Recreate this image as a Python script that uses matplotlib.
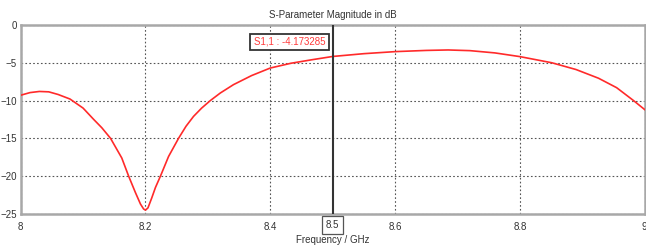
import matplotlib
matplotlib.use('Agg')
import matplotlib.pyplot as plt
import matplotlib.transforms as transforms

plt.rcParams['font.family'] = ['Liberation Sans', 'DejaVu Sans']

# S1,1 magnitude (GHz, dB)
freq_ghz = [8.0, 8.015, 8.03, 8.045, 8.06, 8.079, 8.1, 8.117, 8.13, 8.144,
            8.162, 8.173, 8.184, 8.192, 8.197, 8.2, 8.204, 8.21, 8.216, 8.224,
            8.237, 8.253, 8.265, 8.277, 8.29, 8.304, 8.32, 8.341, 8.37, 8.4,
            8.433, 8.467, 8.5, 8.55, 8.6, 8.65, 8.685, 8.72, 8.76, 8.8,
            8.851, 8.89, 8.926, 8.955, 8.982, 9.0]
s11_db = [-9.3, -8.95, -8.8, -8.85, -9.2, -9.8, -11.0, -12.5, -13.6, -15.0,
          -17.6, -20.0, -22.2, -23.7, -24.35, -24.5, -24.2, -22.9, -21.5, -20.0,
          -17.4, -15.0, -13.4, -12.1, -11.0, -10.0, -9.0, -7.9, -6.7, -5.7,
          -5.07, -4.6, -4.17, -3.8, -3.53, -3.37, -3.31, -3.4, -3.7, -4.19,
          -5.0, -5.9, -7.05, -8.3, -10.0, -11.2]

x_ticks = [8, 8.2, 8.4, 8.6, 8.8, 9]
x_tick_labels = ['8', '8.2', '8.4', '8.6', '8.8', '9']
y_ticks = [0, -5, -10, -15, -20, -25]

marker_freq = 8.5
marker_label = 'S1,1 : -4.173285'

fig = plt.figure(figsize=(6.46, 2.47), dpi=100)
ax = fig.add_axes((0.032, 0.134, 0.966, 0.765))

ax.plot(freq_ghz, s11_db, color='#ff2a2a', linewidth=1.2, zorder=3)
ax.set_xlim(8, 9)
ax.set_ylim(-25, 0)

ax.set_xticks(x_ticks)
ax.set_xticklabels(x_tick_labels)
ax.set_yticks(y_ticks)
ax.tick_params(length=0, labelsize=7, colors='#333333')
ax.tick_params(axis='x', pad=6)
ax.tick_params(axis='y', pad=3)

ax.grid(True, linestyle=(0, (1.5, 2)), color='#555555', linewidth=0.8)

for side in ['left', 'top', 'bottom', 'right']:
    ax.spines[side].set_color('#a8a8a8')
    ax.spines[side].set_linewidth(1.8)

# Marker line and its readout
ax.axvline(marker_freq, color='#333333', linewidth=1.5, zorder=4)
ax.text(marker_freq - 0.012, -2.25, marker_label, ha='right', va='center',
        fontsize=7, color='#ff3b3b', zorder=5,
        bbox=dict(boxstyle='square,pad=0.35', facecolor='white',
                  edgecolor='#333333', linewidth=1.3))

trans = transforms.blended_transform_factory(ax.transData, ax.transAxes)
ax.text(marker_freq, -0.058, '8.5', transform=trans, ha='center', va='center',
        fontsize=7, color='#333333',
        bbox=dict(boxstyle='square,pad=0.4', facecolor='white',
                  edgecolor='#555555', linewidth=0.9))

ax.set_title('S-Parameter Magnitude in dB', fontsize=7, color='#333333', pad=5)
ax.set_xlabel('Frequency / GHz', fontsize=7, color='#333333')
ax.xaxis.set_label_coords(0.5, -0.112)

fig.savefig('out.png', dpi=100)
